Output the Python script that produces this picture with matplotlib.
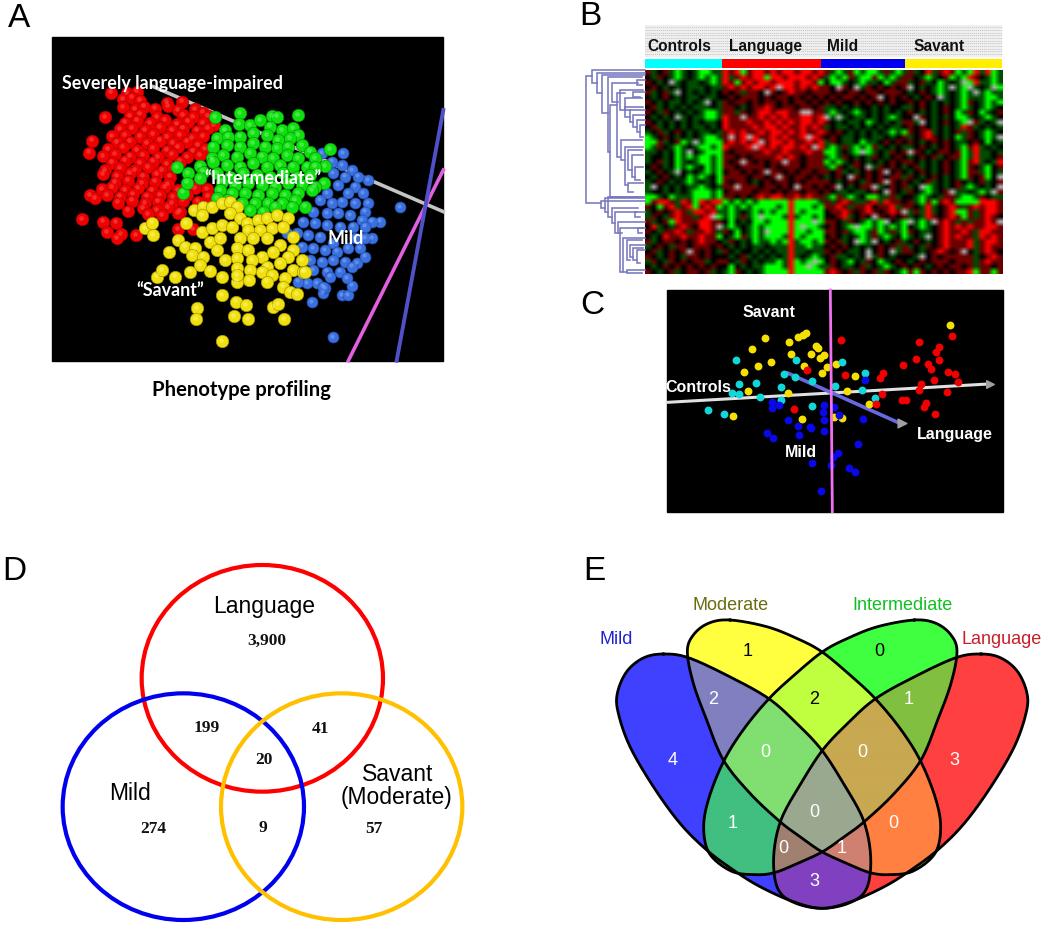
import numpy as np
import matplotlib
matplotlib.use('Agg')
import matplotlib.pyplot as plt
from matplotlib.patches import Ellipse, Rectangle
from matplotlib.path import Path

W, H = 1050, 930

# panel A, points in 3x picture coordinates
red_pts = [(212,188),(195,262),(157,332),(147,368),(125,568),(150,495),(165,505),(190,575),(228,578),(200,607),(243,612),(230,625),(288,615),(415,598),(458,597),
    (262,190),(290,185),(248,208),(275,203),(300,212),(380,218),(425,215),(250,232),(285,238),(312,230),(345,236),(385,228),(415,240),(465,238),(490,248),
    (270,258),(300,252),(350,262),(430,255),(460,262),(505,258),(255,278),(290,272),(330,280),(375,270),(410,282),(445,275),(490,280),(522,285),
    (240,298),(275,295),(315,300),(360,292),(395,300),(430,296),(470,302),(505,295),(215,318),(255,315),(300,320),(340,312),(380,322),(420,315),(455,325),(490,318),
    (230,338),(270,335),(320,340),(360,332),(400,340),(440,335),(475,345),(205,358),(250,352),(290,360),(340,355),(380,362),(415,352),(460,365),(495,358),
    (190,378),(225,372),(270,380),(310,375),(355,382),(395,372),(440,382),(480,375),(215,398),(255,392),(300,400),(340,395),(380,402),(420,395),
    (195,420),(240,415),(285,420),(325,412),(365,422),(400,415),(190,432),(230,438),(270,430),(310,440),(350,432),(390,440),
    (225,458),(265,452),(305,460),(345,455),(385,462),(445,458),(480,452),(185,478),(215,472),(255,480),(295,475),(335,482),(375,472),(415,480),(465,475),(500,478),
    (200,495),(240,500),(280,492),(320,500),(360,495),(400,502),(440,495),(505,498),(235,518),(275,512),(315,520),(355,515),(395,520),(430,512),(475,515),
    (265,542),(310,535),(350,540),(385,532),(420,545),(490,532),(325,552),(365,555),(415,550)]
green_pts = [(525,262),(600,250),(773,256),(695,258),(712,260),(410,412),(870,358),(855,408),(430,488),(853,460),(795,530),
    (597,283),(555,300),(630,285),(660,270),(690,290),(725,300),(760,295),(775,315),(530,325),(565,320),(600,320),(640,310),(680,315),(715,330),(750,325),
    (520,350),(560,345),(600,350),(640,340),(675,350),(710,355),(745,350),(785,345),(810,365),(515,385),(550,375),(590,380),(630,370),(665,380),(700,385),(740,375),(775,385),(825,385),
    (480,408),(520,395),(560,405),(600,410),(640,400),(680,410),(720,405),(760,410),(800,410),(825,410),(445,430),(490,425),(530,430),(570,440),(610,430),(650,435),(690,440),(730,430),(770,440),(810,435),
    (440,458),(480,445),(545,455),(585,465),(625,460),(665,465),(705,470),(745,460),(785,465),(825,470),(540,480),(575,490),(615,490),(655,495),(695,490),(735,495),(775,490),(815,480),
    (530,505),(565,510),(605,520),(645,520),(685,520),(725,520),(765,510),(630,540),(670,545),(705,530),(755,530)]
yellow_pts = [(545,933),(470,835),(468,868),(583,858),(625,868),(733,868),(588,815),(618,826),(545,796),(700,832),(715,822),(350,740),(365,720),(405,740),(388,665),(315,595),(335,578),(338,615),(438,580),
    (462,540),(490,530),(515,530),(485,555),(545,520),(570,515),(590,530),(570,550),(600,565),(620,580),(655,570),(680,565),(710,555),(745,565),(485,605),(515,595),(545,585),(575,590),(625,600),(660,600),(695,595),(730,590),(760,620),
    (415,630),(435,650),(465,655),(510,635),(540,625),(600,625),(640,625),(680,625),(720,645),(760,660),(455,675),(490,680),(530,660),(590,655),(625,660),(665,680),(700,665),(745,680),(785,690),
    (480,705),(510,722),(555,690),(590,685),(635,690),(680,710),(720,700),(760,720),(790,725),(450,725),(545,742),(590,715),(630,720),(665,725),(695,735),(735,745),(795,725),(590,755),(628,750),(680,755),(730,770),(750,785),(770,793),(590,735)]
blue_pts = [(845,370),(910,370),(985,450),(1080,532),(880,922),(1020,575),(995,625),(815,817),(905,795),(925,795),(935,767),(850,790),(855,775),
    (875,395),(905,405),(935,420),(955,440),(880,430),(915,440),(945,470),(970,490),(895,465),(925,490),(860,490),(985,520),(840,510),(875,520),(905,515),(945,520),(975,545),
    (820,545),(860,550),(895,550),(930,555),(965,570),(995,575),(790,575),(825,580),(860,585),(900,590),(940,590),(975,590),(770,610),(805,615),(840,620),(880,640),(945,625),(975,625),(740,610),
    (785,650),(820,655),(855,660),(890,665),(925,655),(960,655),(810,690),(845,695),(880,690),(915,695),(950,700),(975,680),(820,720),(860,725),(900,725),(935,710),(800,760),(830,760),(870,740),(920,745),(775,755),(850,770)]

# panel B, one string per group, one letter per cell
# G/g green, R/r red, . black, w grey
ctrl_rows = ["rg.rgGg.gGGgg",".gr.gGg.gGgGg","r.g.wg.gg.gGg",".r.g.g.ggg.gg","rg.rgw.g.g.g.",".g.r.g.gg.gg.","r.g.gg.g.gw.g",".rg.g.g.ggg.g","r.gr.g.g.gGGg",".g.g.wg.ggGGg",
    "r.g.g.g.g.gg.",".rg.g.g.gg.g.","g.rg.r.g.gg.g","Gg.r.g.g.gGGg","GGrg.rGgwgGGG","Ggr.gGg.gGGgG","gg.g.Ggw.gGGG","g..g.GgGgGGgG","g.rg.Gg.gGGgG",".r.g.GgGg.GgG",
    "g.r.gw.g.gGgG",".g.r.g.GgGg.G","g.r.g.gGg.g.G","gw.g.g.ggGg.g","g..g.g.gGGGgG","GGg.GgggGGGgG","GrRRrgRrGRrRR","r.GrRgrRGrRrG","g.r.rRrgRRrRg","gr.grRrrgrRwG",
    "rg.rGRrrrRRrr",".Rg.grRr.RRrw","r.grrRrgrrRrg",".g.RrrRrrRrrG","rg.rr.r.rRrr.","g.r.grr.rrr.r",".rg.r.rwr.r.g","r.g.r.grr.r..","gr.gr.r.rrg.r",".g.r.r.r.r.r.","r.g.rg.rr.rg."]
lang_rows = ["RrRGrRRrRrRRrRRrR","RgrRrRRGRRrRRRrRr","RrGrRrRRrRRRrRRrG","rRrRrRRrRwRRrRrRr","r.rgrr.wr.rRrr.rr",".r.rrr.r.rr.r.r.r","r.rr.r.rr.r.rr.r.","rr.g.rrRr.rr.rr.r","rrgr.rRRrRRrrwwrr","RrrwrrRrRrRrrRRrR",
    "RrrrRrrRrRrRrRRrR","RrrrrRrRRrRrrRrRr","rRrRrrRrRRrRrRrrR","rwrRwRrrRrRrrRwRr","rRrRrRwrRRrRrrRrR","RrrrRwRrRrRRrRrwR","r.rrrrrRrrRrrrRrr","rr.r.rrrrRrRr.rrr","r.rwr.r.rrwrr.rrr","rr.rrrr.r.rrr.rrr",
    ".rr.r.rwrr.r.rr.r","rrrr.rr.rwr.rr.r.","r.rr.g.r.rr.r.rrr","rrwrrr.rr.r.wrr.r",".rrrr.rr.r.rr.rr.","rr.r.rRrRRrrRrRrr","GgGgGgGGGGGRGGGGg","gGgGgGGGGgGRGGGgG","gGg.gGgGgGGRGgGGG","gGgrgGwGGGgRgGGgG",
    ".G.g.GGgGGGRGGGwG","gGg.gGgGGGGRGwGGg","r.G.gGgwGGGRGGgGG",".gGrgGgGGGgRGgGGG","gr.g.GggGgGRgGGgG",".g.g.gg.gggRggGgg","r.g..g.g.ggRgg.gg",".g.rg.g.g.gRg.gGg","r.gr.g.ggGgRGgGwG",".G.g.ggGGGgRGGwGg","gGr.g.gGGGGRGGGGG"]
mild_rows = ["rgGgrGgGGgrgGg","gGgGrgGGrGgGgr",".GGg.gGgg.Ggrr","r.wr.wgr.r.r.r","r.r.rr.rr.rrr.",".r.rr.r.rw.r.r","r.r..r.r.r.r..","gg.g.g..g.g..g","gGg.gGg.g.g.g.","wgwg.gg.g.gGg.",
    "r.g.gg.Gg.g.gr","g.gg.g.g.g.gg.","r.r.g.g.g.gGgG",".r.gg.g.gg.g.r","gr.gg.Ggg.r.r.","gGgrgGgGrg.g.g","GGg.gGwGg.gr.r","gGgr.g.gr.g.r.","GgGg.r.g.g.r.r","gGr.gr.wgr.r.g",
    "r.rg.g.r.rw.r.","g.r.wr.r.r.rrg","r.g.r.gr.rwr.r",".rw.g.rrwg.r.r","r.gg.gg.r.wr.g","gGrgGg.GGggrg.","rgrRrggrRgRrr.","rrRrgrrR.rrRgr",".rrRr.rRr.rRrw","..rRg.r.wr.r.r",
    "rr.gr.gGgGw.gG",".r.gGwGGgGgGgG","rr.rgGGgrGgrgG",".r.g.gGgrgGg.G","r.rg.wGgw.g.rg",".r.r.g.g.r.rgr","r.r.gg.w.r.wgr",".rgg.g.wgr.g..",".r.gG.gr.Gg.r.","gr.gg.rg.gGg.r","rRr.rgr.rgr.gG"]
sav_rows = ["rg.RgrRrGgGRgRGg","r.gGg.rGgGRr.gGg","g.rg.Gg.gwGRggGg","w.g.gGgwgGwg.gwG","g.r.gGg.gGgwgGgg",".g.r.wg.gGgggGGg","r.r.g.g.gGr.gGgG","g.r.g.r.gGg.gGg.","r.g.g.r.Ggr.Gg.r",".wr.g.g.GGg.gGg.",
    "rgw.g.r.gGwrg.gw","r.r.g.g.gRrg.g.g","r.rRg.g.rgr.gGg.","g.rRr.g.Ggr.gGgw","r.g.r.r.gg.r.G.g","g.r.g.r.gGrRg.g.","wr.g.rr.rGgRgg.g","g.r.rg.rrGgRgg.r","r.g.g.r.gGrRg.gR",".rg.g.r.gGr.gG.r",
    "g.r.g.r.gGrrgG.g","r.g.r.g.gGr.rG.w",".g.rg.g.r.g.rg.r","g.wGg.g.rgGg.g.w","r.gGg.rwgg.gGgwr",".gGg.grrgGGgr.gg","rgGrGrRrGGGGRRRr","r.gRg.rRrgrRrRRr","grgRg.rRGGrgrRRr","g.gRr.rRrGrgrRr.",
    "wgGgwrRrgrgrrRrw",".gGg.rRrRrRrrRRr","r.gg.rRrrRrgRRrr","g.gw.rRrRrrgRrRr",".r.g.rRrrrRgrRRr","g.gr.rRrrrRgrRrr","r.g.rRr.rw.grRr.",".gw.r.rrrrrg.rRr","g.r.rrr.rrrgrRrr",".r.g.r.rr.rgrr.r","rGr.r.r.rrRGrrGr"]
group_names = ['Controls', 'Language', 'Mild', 'Savant']
group_colors = ['#00ffff', '#ff0000', '#0000ee', '#ffee00']
group_edges = [225, 455, 753, 1005, 1297]
group_label_x = [232, 477, 771, 1032]
cell_colors = {'G': (0, 1, 0), 'g': (0, .3, 0), '.': (0, 0, 0), 'r': (.42, 0, 0), 'R': (1, 0, 0), 'w': (.7, .7, .7)}

# dendrogram brackets: x, top y, top end, bottom y, bottom end
brackets = [(32,48,50,430,78),(50,30,210,70,65),(65,40,210,100,82),(82,45,210,160,98),(98,50,200,275,105),(105,135,125,410,205),(112,70,190,125,130),
    (125,100,150,290,135),(135,90,205,150,150),(150,115,200,150,165),(150,140,205,170,165),(165,150,210,185,175),(175,165,210,200,185),(185,180,210,215,195),(195,195,210,230,205),
    (138,240,200,300,150),(150,262,205,375,160),(160,270,200,330,170),(170,285,205,350,180),(180,320,205,360,195),(160,370,205,395,175),(185,60,210,75,200),(175,95,210,110,195),
    (78,422,210,445,90),(90,415,210,455,100),(100,412,210,470,110),(110,445,190,490,120),(120,455,185,520,130),(130,485,210,520,140),(135,505,205,635,145),(145,535,210,635,155),
    (155,540,200,600,165),(165,555,210,590,175),(175,565,205,600,185),(185,570,210,610,195),(155,630,210,640,200),(180,455,210,470,195),(190,505,210,520,200)]

# panel C
c_yellow = [(316,158),(277,191),(386,171),(415,156),(430,150),(438,143),(467,182),(475,190),(394,208),(452,206),(491,209),(480,218),(332,231),(293,244),(252,261),(433,243),(500,247),(485,264),(527,237),(265,318),(584,274),(562,317),(383,323),(220,392),(426,401),(521,397),(547,400),(627,358),(870,121)]
c_cyan = [(227,226),(409,225),(546,231),(373,268),(405,275),(455,288),(237,297),(289,295),(363,307),(216,323),(238,326),(300,337),(364,346),(524,303),(614,264),(607,314),(646,338),(143,375),(191,387),(455,362)]
c_red = [(543,164),(777,171),(837,187),(829,202),(877,153),(836,226),(767,222),(730,240),(803,236),(812,253),(669,263),(659,280),(556,271),(440,254),(865,262),(886,267),(821,284),(893,291),(783,298),(776,316),(860,320),(665,328),(648,357),(727,344),(738,344),(798,355),(793,365),(825,386),(401,372)]
c_blue = [(616,285),(335,350),(335,368),(356,359),(492,359),(521,365),(488,381),(538,390),(385,405),(491,406),(610,401),(414,423),(450,427),(454,428),(491,437),(320,444),(418,450),(339,458),(594,477),(535,505),(518,517),(457,533),(512,540),(566,550),(584,561),(482,618)]

# panel D
d_counts = ['3,900', '199', '41', '20', '274', '9', '57']
d_count_x = [650, 470, 810, 642, 310, 640, 973]
d_count_y = [183, 445, 446, 540, 746, 744, 746]
d_centers = [(637, 295), (400, 680), (875, 680)]
d_colors = ['#ff0000', '#0000ee', '#ffc000']

mild_outline = [(250,222),(325,233),(445,288),(565,355),(650,430),(725,510),(790,610),(850,720),(872,830),(860,925),(810,968),(725,985),(640,965),(540,920),(460,870),(380,810),(300,730),(220,620),(150,500),(115,400),(112,340),(140,275),(190,234)]
moderate_outline = [(450,120),(560,140),(650,175),(725,215),(810,285),(885,355),(960,445),(1020,540),(1065,650),(1082,740),(1065,820),(1000,873),(930,884),(870,878),(800,850),(725,815),(660,770),(600,725),(510,640),(430,540),(380,420),(340,310),(322,215),(340,165),(385,130)]
mirror_x = 1453
e_names = ['Mild', 'Moderate', 'Intermediate', 'Language']
e_name_colors = ['#2020d0', '#6b6b10', '#10c020', '#c81e28']
e_name_x = [108, 451, 969, 1265]
e_name_y = [180, 76, 76, 180]
# which shapes (mild, moderate, intermediate, language) -> region colour
e_region_colors = {'1000': '#4040ff', '0100': '#ffff40', '0010': '#40ff40', '0001': '#ff4040',
    '1100': '#8080c0', '0110': '#bfff40', '0011': '#80bf40', '1010': '#40bf80', '0101': '#ff8040', '1001': '#8040c0',
    '1110': '#80df70', '0111': '#c8a850', '1101': '#d08070', '1011': '#a08070', '1111': '#9aa890'}
e_counts = ['4', '1', '0', '3', '2', '2', '1', '0', '0', '1', '0', '0', '0', '1', '3']
e_count_x = [279, 503, 899, 1122, 399, 702, 985, 555, 847, 458, 940, 702, 610, 786, 702]
e_count_y = [542, 215, 215, 542, 360, 360, 360, 517, 517, 731, 731, 696, 806, 806, 903]
e_count_colors = ['white', 'black', 'black', 'white', 'white', 'black', 'white', 'white', 'white', 'white', 'white', 'white', 'white', 'white', 'white']

fig = plt.figure(figsize=(W / 100, H / 100), dpi=100, facecolor='white')


# every panel is in the coordinates of a 3x crop of the picture
def panel(x0, y0, w, h):
    ax = fig.add_axes([x0 / W, 1 - (y0 + h) / H, w / W, h / H])
    ax.set_xlim(0, w * 3)
    ax.set_ylim(h * 3, 0)
    ax.axis('off')
    return ax


def balls(ax, pts, color, edge, light, z, size=80):
    xy = np.array(pts)
    ax.scatter(xy[:, 0], xy[:, 1], s=size, c=color, edgecolors=edge, linewidths=0.5, zorder=z)
    ax.scatter(xy[:, 0] - 3, xy[:, 1] - 4, s=size * 0.14, c=light, linewidths=0, alpha=0.4, zorder=z)


# closed smooth curve through the read points (catmull-rom)
def smooth_closed(pts, n=12):
    p = np.array(pts, dtype=float)
    out = []
    for i in range(len(p)):
        p0, p1, p2, p3 = p[i - 1], p[i], p[(i + 1) % len(p)], p[(i + 2) % len(p)]
        for t in np.linspace(0, 1, n, endpoint=False):
            out.append(0.5 * (2 * p1 + (p2 - p0) * t + (2 * p0 - 5 * p1 + 4 * p2 - p3) * t ** 2 + (3 * p1 - p0 - 3 * p2 + p3) * t ** 3))
    out = np.array(out)
    return np.vstack([out, out[:1]])


# A
ax = panel(40, 30, 420, 340)
ax.add_patch(Rectangle((35, 22), 1175, 970, color='black', zorder=0))
ax.plot([340, 1210], [170, 545], color='#c4c4c4', lw=2.6, zorder=1)
ax.plot([925, 1210], [992, 420], color='#e060e0', lw=2.6, zorder=1)
ax.plot([1070, 1210], [992, 240], color='#5050c8', lw=2.8, zorder=1)
balls(ax, red_pts, '#f00000', '#b00000', '#ff7070', 2)
balls(ax, blue_pts, '#3a70e0', '#2450a8', '#a0c0ff', 3, size=62)
balls(ax, green_pts, '#10e010', '#0a960a', '#90ff90', 4)
balls(ax, yellow_pts, '#f0e010', '#a89800', '#ffffa0', 5)
tk = dict(color='white', family='Lato', fontweight='bold', ha='center', va='center', fontsize=12.9, zorder=6)
ax.text(397, 160, 'Severely language-impaired', **tk)
ax.text(668, 447, '“Intermediate”', **tk)
ax.text(917, 625, 'Mild', **tk)
ax.text(392, 782, '“Savant”', **tk)
ax.text(603, 1080, 'Phenotype profiling', color='black', family='Lato', fontweight='bold', ha='center', va='center', fontsize=14.6)

# B
ax = panel(570, 10, 450, 270)
ax.add_patch(Rectangle((225, 45), 1072, 95, color='#efefef', lw=0))
for yy in [52, 60, 68, 76, 84, 92, 100, 108, 116, 124, 132]:
    ax.plot([225, 1297], [yy, yy], color='#c4c4c4', lw=0.7, ls=(0, (1, 1)))
for i in range(4):
    ax.add_patch(Rectangle((group_edges[i], 147), group_edges[i + 1] - group_edges[i], 26, color=group_colors[i], lw=0))
    ax.text(group_label_x[i], 110, group_names[i], color='#111111', family='Liberation Sans', fontweight='bold',
            ha='left', va='center', fontsize=11.2, zorder=3)
heat = []
for k in range(len(ctrl_rows)):
    segs = [ctrl_rows[k][:13].ljust(13, '.'), lang_rows[k][:17].ljust(17, '.'), mild_rows[k][:14].ljust(14, '.'), sav_rows[k][:16].ljust(16, '.')]
    heat.append([cell_colors[c] for c in ''.join(segs)])
ax.imshow(np.array(heat), extent=(225, 1297, 792, 180), aspect='auto', interpolation='bilinear', zorder=2)
ax.set_xlim(0, 1350)
ax.set_ylim(810, 0)

ax = panel(575, 60, 75, 220)
for x, y1, x1, y2, x2 in brackets:
    ax.plot([x1, x, x, x2], [y1, y1, y2, y2], color='#7878c0', lw=1.15, solid_joinstyle='miter')

# C
ax = panel(660, 285, 350, 230)
ax.add_patch(Rectangle((20, 15), 1010, 665, color='black', zorder=0))
ax.plot([22, 985], [352, 297], color='#e0e0e0', lw=2.2, zorder=1)
ax.plot([385, 720], [265, 415], color='#6868e0', lw=2.6, zorder=1)
ax.plot([511, 517], [15, 680], color='#f070f0', lw=2, zorder=4)
ax.scatter([990], [297], marker='>', s=30, c='#a0a0a0', zorder=1)
ax.scatter([725], [415], marker='>', s=40, c='#a0a0a0', zorder=1)
for pts, col in [(c_yellow, '#f5e000'), (c_cyan, '#10d8d8'), (c_red, '#f00000'), (c_blue, '#0808e8')]:
    xy = np.array(pts)
    ax.scatter(xy[:, 0], xy[:, 1], s=32, c=col, linewidths=0, zorder=3)
tk = dict(color='white', family='Liberation Sans', fontweight='bold', ha='center', va='center', fontsize=11.5, zorder=5)
ax.text(326, 82, 'Savant', **tk)
ax.text(115, 308, 'Controls', **tk)
ax.text(885, 447, 'Language', **tk)
ax.text(423, 503, 'Mild', **tk)

# D
ax = panel(50, 580, 470, 350)
for (cx, cy), col in zip(d_centers, d_colors):
    ax.add_patch(Ellipse((cx, cy), 724, 680, fill=False, edgecolor=col, lw=3, clip_on=False))
tk = dict(color='black', family='Liberation Sans', ha='center', va='center', fontsize=16.5)
ax.text(642, 80, 'Language', clip_on=False, **tk)
ax.text(240, 640, 'Mild', **tk)
ax.text(1042, 582, 'Savant', **tk)
ax.text(1040, 652, '(Moderate)', **tk)
for s, x, y in zip(d_counts, d_count_x, d_count_y):
    ax.text(x, y, s, color='#111111', family='Liberation Serif', fontweight='bold', ha='center', va='center', fontsize=12.5)

# E
ax = panel(580, 580, 470, 350)
mild_c = smooth_closed(mild_outline)
mod_c = smooth_closed(moderate_outline)
inter_c = mod_c * [-1, 1] + [mirror_x, 0]
lang_c = mild_c * [-1, 1] + [mirror_x, 0]
curves = [mild_c, mod_c, inter_c, lang_c]
gx, gy = np.meshgrid(np.arange(0, 1410, 2) + 1.0, np.arange(0, 1050, 2) + 1.0)
grid = np.column_stack([gx.ravel(), gy.ravel()])
inside = [Path(c).contains_points(grid).reshape(gx.shape) for c in curves]
img = np.ones(gx.shape + (3,))
for key, col in e_region_colors.items():
    m = np.ones(gx.shape, dtype=bool)
    for flag, mask in zip(key, inside):
        m &= mask if flag == '1' else ~mask
    img[m] = matplotlib.colors.to_rgb(col)
ax.imshow(img, extent=(0, 1410, 1050, 0), aspect='auto', interpolation='bilinear', zorder=0)
for c in curves:
    ax.plot(c[:, 0], c[:, 1], color='black', lw=2, zorder=2)
for s, x, y, col in zip(e_names, e_name_x, e_name_y, e_name_colors):
    ax.text(x, y, s, color=col, family='Liberation Sans', ha='center', va='center', fontsize=13, zorder=3)
for s, x, y, col in zip(e_counts, e_count_x, e_count_y, e_count_colors):
    ax.text(x, y, s, color=col, family='Liberation Sans', ha='center', va='center', fontsize=13, zorder=3)

# panel letters
for s, x, y in [('A', 19, 27), ('B', 590, 25), ('C', 592, 314), ('D', 14, 580), ('E', 594, 580)]:
    fig.text(x / W, 1 - y / H, s, color='black', family='Liberation Sans', ha='center', va='baseline', fontsize=24)

fig.savefig('out.png', dpi=100)
